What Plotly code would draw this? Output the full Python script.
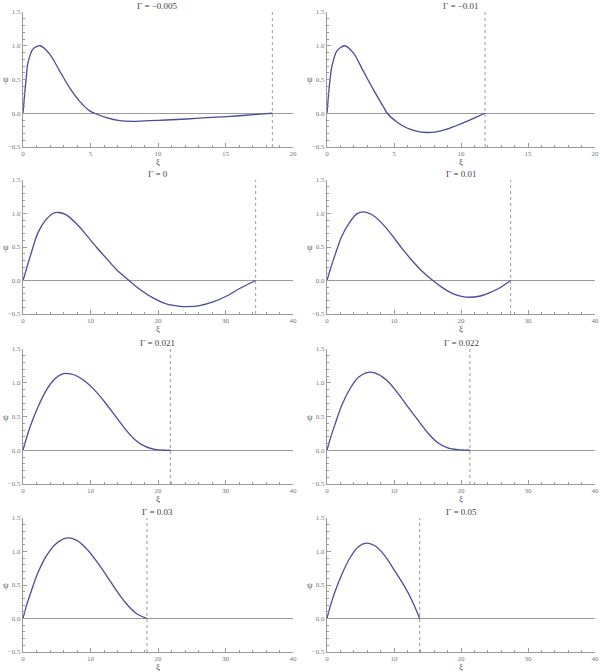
import plotly.graph_objects as go

# ---- data ----
titles = ["Γ = −0.005", "Γ = −0.01", "Γ = 0", "Γ = 0.01",
          "Γ = 0.021", "Γ = 0.022", "Γ = 0.03", "Γ = 0.05"]

x_max = [20, 20, 40, 40, 40, 40, 40, 40]
x_dtick = [5, 5, 10, 10, 10, 10, 10, 10]

xi1 = [0, 0.25, 0.37, 0.74, 1.28, 1.98, 2.72, 3.46, 4.2, 4.94, 5.3, 6.17, 7.16, 8.15,
       9.38, 10.6, 12.1, 13.6, 15.1, 16.5, 17.8, 18.47]
psi1 = [0, 0.55, 0.75, 0.95, 1.0, 0.875, 0.625, 0.375, 0.175, 0.035, 0, -0.065, -0.11, -0.12,
        -0.11, -0.10, -0.085, -0.065, -0.05, -0.03, -0.01, 0]

xi2 = [0, 0.2, 0.37, 0.74, 1.31, 1.98, 2.72, 3.46, 4.2, 4.49, 5.19, 5.93, 6.67, 7.41,
       8.15, 8.89, 9.63, 10.37, 11.1, 11.8]
psi2 = [0, 0.45, 0.7, 0.925, 1.0, 0.89, 0.62, 0.35, 0.1, 0, -0.125, -0.215, -0.265, -0.285,
        -0.275, -0.24, -0.185, -0.125, -0.06, 0]

xi3 = [0, 0.49, 1.23, 2.22, 3.46, 4.44, 5.33, 6.42, 7.9, 9.38, 10.86, 12.35, 13.83, 15.7,
       17.28, 19.26, 21.23, 23.21, 24.44, 26.17, 28.15, 30.12, 32.1, 34.47]
psi3 = [0, 0.165, 0.415, 0.715, 0.915, 1.0, 1.015, 0.98, 0.85, 0.68, 0.50, 0.33, 0.165, 0,
        -0.13, -0.26, -0.35, -0.385, -0.39, -0.375, -0.32, -0.235, -0.12, 0]

xi4 = [0, 0.49, 1.23, 2.22, 3.46, 4.44, 5.43, 6.67, 8.15, 9.63, 11.11, 12.59, 14.07, 15.8,
       17.28, 18.77, 20.25, 21.23, 22.72, 24.2, 25.68, 27.41]
psi4 = [0, 0.165, 0.39, 0.665, 0.88, 0.995, 1.025, 0.985, 0.86, 0.685, 0.49, 0.31, 0.15, 0,
        -0.11, -0.195, -0.24, -0.25, -0.235, -0.185, -0.115, 0]

xi5 = [0, 0.49, 1.23, 2.22, 3.46, 4.69, 5.68, 6.42, 7.65, 9.14, 10.62, 12.1, 13.58, 15.06,
       16.54, 18.02, 19.51, 20.99, 21.83]
psi5 = [0, 0.175, 0.395, 0.64, 0.89, 1.055, 1.125, 1.14, 1.115, 1.025, 0.89, 0.715, 0.52, 0.325,
        0.16, 0.06, 0.012, 0.0, 0]

xi6 = [0, 0.49, 1.23, 2.22, 3.46, 4.69, 6.17, 7.65, 9.14, 10.62, 12.1, 13.58, 15.06, 16.54,
       18.02, 19.51, 20.99, 21.33]
psi6 = [0, 0.175, 0.395, 0.67, 0.915, 1.08, 1.155, 1.125, 1.015, 0.84, 0.64, 0.445, 0.255, 0.11,
        0.035, 0.008, 0.0, 0]

xi7 = [0, 0.49, 1.23, 2.22, 3.46, 4.94, 6.42, 7.9, 9.38, 10.86, 12.35, 13.83, 15.31, 16.79, 18.37]
psi7 = [0, 0.185, 0.41, 0.685, 0.935, 1.12, 1.2, 1.17, 1.045, 0.86, 0.645, 0.42, 0.22, 0.075, 0]

xi8 = [0, 0.49, 1.23, 2.22, 3.46, 4.69, 5.83, 7.16, 8.64, 10.12, 11.6, 12.84, 13.83]
psi8 = [0, 0.185, 0.41, 0.66, 0.91, 1.07, 1.125, 1.085, 0.935, 0.71, 0.475, 0.235, 0]

xis = [xi1, xi2, xi3, xi4, xi5, xi6, xi7, xi8]
psis = [psi1, psi2, psi3, psi4, psi5, psi6, psi7, psi8]

y_range = [-0.5, 1.5]

# ---- layout geometry (pixels) ----
W, H = 600, 672
col_px = [(23, 293), (327, 595)]
row_px = [(12, 147), (180, 314), (349, 484), (518, 652)]

LINE = "#4b4b9b"
AX = "#9a9a9a"
TXT = "#777777"
FONT = "Liberation Serif"

fig = go.Figure()
layout = dict(
    width=W, height=H, margin=dict(l=0, r=0, t=0, b=0, autoexpand=False),
    paper_bgcolor="white", plot_bgcolor="white", showlegend=False,
    font=dict(family=FONT, size=7, color=TXT),
)
annotations = []
shapes = []

for i in range(8):
    r, c = divmod(i, 2)
    n = i + 1
    xa = "xaxis" if n == 1 else f"xaxis{n}"
    ya = "yaxis" if n == 1 else f"yaxis{n}"
    xref = "x" if n == 1 else f"x{n}"
    yref = "y" if n == 1 else f"y{n}"
    x0p, x1p = col_px[c]
    t0p, b0p = row_px[r]
    xd = [x0p / W, x1p / W]
    yd = [1 - b0p / H, 1 - t0p / H]

    fig.add_trace(go.Scatter(
        x=xis[i], y=psis[i], mode="lines",
        line=dict(color=LINE, width=1.3, shape="spline", smoothing=0.8),
        xaxis=xref, yaxis=yref, hoverinfo="skip"))

    layout[xa] = dict(
        domain=xd, anchor=yref, range=[0, x_max[i]], dtick=x_dtick[i], tick0=0,
        automargin=False,
        showgrid=False, zeroline=False, showline=True, linecolor=AX, linewidth=1,
        ticks="inside", ticklen=4, tickcolor=AX, tickwidth=1,
        minor=dict(ticks="inside", ticklen=2, tickcolor=AX, dtick=x_dtick[i] / 5, showgrid=False),
        tickfont=dict(family=FONT, size=7, color=TXT), fixedrange=True,
    )
    layout[ya] = dict(
        domain=yd, anchor=xref, range=y_range, dtick=0.5, tick0=0, tickformat=".1f",
        automargin=False,
        showgrid=False, zeroline=True, zerolinecolor=AX, zerolinewidth=1,
        showline=True, linecolor=AX, linewidth=1,
        ticks="inside", ticklen=4, tickcolor=AX, tickwidth=1,
        minor=dict(ticks="inside", ticklen=2, tickcolor=AX, dtick=0.1, showgrid=False),
        tickfont=dict(family=FONT, size=7, color=TXT), fixedrange=True,
    )

    # vertical dashed line at the end point of the solution
    shapes.append(dict(type="line", xref=xref, yref=f"{yref} domain",
                       x0=xis[i][-1], x1=xis[i][-1], y0=0, y1=1,
                       line=dict(color=AX, width=1, dash="dot")))

    cx = (xd[0] + xd[1]) / 2
    annotations.append(dict(text=titles[i], xref="paper", yref="paper",
                            x=cx, y=yd[1] + 6 / H, xanchor="center", yanchor="middle",
                            showarrow=False, font=dict(family=FONT, size=9, color="#444")))
    annotations.append(dict(text="ξ", xref="paper", yref="paper",
                            x=cx, y=yd[0] - 15 / H, xanchor="center", yanchor="middle",
                            showarrow=False, font=dict(family=FONT, size=9, color="#555")))
    annotations.append(dict(text="ψ", xref="paper", yref="paper",
                            x=(x0p - 17) / W, y=(yd[0] + yd[1]) / 2, xanchor="center",
                            yanchor="middle", showarrow=False,
                            font=dict(family=FONT, size=9, color="#555")))

layout["annotations"] = annotations
layout["shapes"] = shapes
fig.update_layout(**layout)
fig.write_html("out.html", config={"displayModeBar": False, "staticPlot": True},
               post_script="document.body.style.margin='0';document.body.style.overflow='hidden';")
